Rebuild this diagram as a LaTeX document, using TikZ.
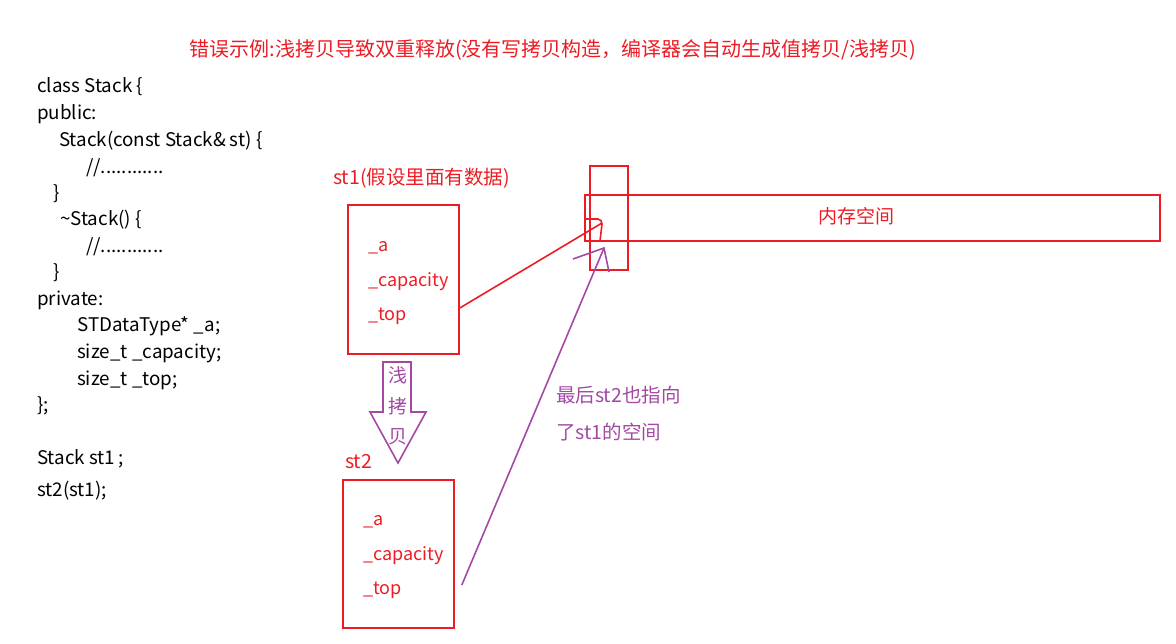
\documentclass[tikz,border=0pt]{standalone}
\usepackage{fontspec}
\setmainfont{Noto Sans CJK SC}
\definecolor{memred}{RGB}{237,28,36}
\definecolor{notepurple}{RGB}{163,73,164}
\begin{document}
\begin{tikzpicture}[x=1pt,y=-1pt,
  code/.style={anchor=west,inner sep=0pt,font=\fontsize{18.8}{20}\selectfont},
  field/.style={anchor=west,inner sep=0pt,text=memred,font=\fontsize{18}{20}\selectfont},
  tag/.style={anchor=west,inner sep=0pt,text=memred,font=\fontsize{19.5}{20}\selectfont},
  note/.style={anchor=west,inner sep=0pt,text=notepurple,font=\fontsize{19.5}{20}\selectfont},
  copychar/.style={inner sep=0pt,text=notepurple,font=\fontsize{19}{20}\selectfont},
  box/.style={draw=memred,line width=1.6pt,inner sep=0pt},
  redline/.style={draw=memred,line width=1.6pt},
  purpleline/.style={draw=notepurple,line width=1.6pt}]
\useasboundingbox (0,0) rectangle (1176,644);
% title
\node[inner sep=0pt,text=memred,font=\fontsize{20}{22}\selectfont] (title) at (553,50)
  {错误示例:浅拷贝导致双重释放(没有写拷贝构造，编译器会自动生成值拷贝/浅拷贝)};
% code on the left
\node[code] (c1) at (37,87) {class Stack \{};
\node[code] (c2) at (37,114) {public:};
\node[code] (c3) at (59,141) {Stack(const Stack\& st) \{};
\node[code] (c4) at (86,168) {//............};
\node[code] (c5) at (53,194) {\}};
\node[code] (c6) at (60,220) {\textasciitilde Stack() \{};
\node[code] (c7) at (86,247) {//............};
\node[code] (c8) at (53,273) {\}};
\node[code] (c9) at (37,300) {private:};
\node[code] (c10) at (77,326) {STDataType* \_a;};
\node[code] (c11) at (77,353) {size\_t \_capacity;};
\node[code] (c12) at (77,380) {size\_t \_top;};
\node[code] (c13) at (37,406) {\};};
\node[code] (c14) at (37,459) {Stack st1\,;};
\node[code] (c15) at (37,491) {st2(st1);};
% st1
\node[tag] (st1lbl) at (333,178) {st1(假设里面有数据)};
\node[box,minimum width=111pt,minimum height=149pt] (st1) at (403.5,279.5) {};
\node[field] (st1a) at (368,248) {\_a};
\node[field] (st1c) at (368,282) {\_capacity};
\node[field] (st1t) at (368,316) {\_top};
% memory
\node[box,minimum width=575pt,minimum height=46pt] (mem) at (872.5,218) {};
\node[inner sep=0pt,text=memred,font=\fontsize{19}{20}\selectfont] (memlbl) at (856,216) {内存空间};
\node[box,minimum width=38pt,minimum height=104pt] (slot) at (609,218) {};
\coordinate (tip1) at (602,223);
\coordinate (tip2) at (604,248);
% st1 points to the memory
\draw[redline] ([yshift=-28.5pt]st1.east) -- (tip1);
\draw[redline] (585,231) -- (585,219) -- (598,219) to[out=0,in=90] (602,224) -- (600,241);
% shallow copy arrow
\draw[purpleline] (383,362) -- (411,362) -- (411,412) -- (426,412) -- (398,463)
  -- (370,412) -- (383,412) -- cycle;
\node[copychar] (q1) at (398,375) {浅};
\node[copychar] (q2) at (398,406) {拷};
\node[copychar] (q3) at (398,437) {贝};
% st2
\node[tag] (st2lbl) at (345,462) {st2};
\node[box,minimum width=111pt,minimum height=148pt] (st2) at (398.5,554) {};
\node[field] (st2a) at (363,522) {\_a};
\node[field] (st2c) at (363,556) {\_capacity};
\node[field] (st2t) at (363,590) {\_top};
% st2 points to the same memory
\draw[purpleline] ([xshift=7pt,yshift=-31pt]st2.east) -- (tip2);
\draw[purpleline] (573,259) -- (tip2) -- (609,272);
\node[note] (n1) at (556,395) {最后st2也指向};
\node[note] (n2) at (556,432) {了st1的空间};
\end{tikzpicture}
\end{document}
